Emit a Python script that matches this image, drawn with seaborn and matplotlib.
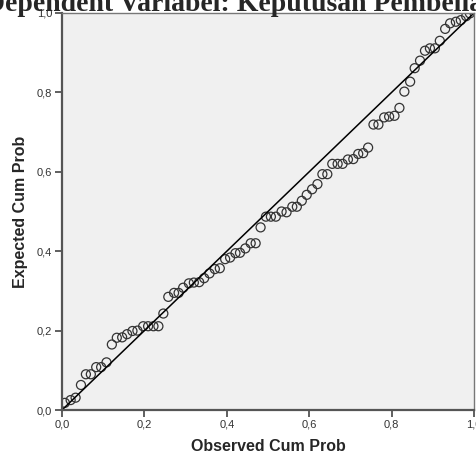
import matplotlib
matplotlib.use("Agg")
import matplotlib.pyplot as plt
import pandas as pd
import seaborn as sns

# P-P plot values
observed = [0.007, 0.021, 0.033, 0.046, 0.058, 0.070, 0.083, 0.095, 0.108, 0.121,
            0.133, 0.146, 0.158, 0.171, 0.183, 0.197, 0.209, 0.222, 0.234, 0.246,
            0.258, 0.272, 0.283, 0.294, 0.308, 0.320, 0.333, 0.345, 0.358, 0.371,
            0.383, 0.396, 0.408, 0.421, 0.432, 0.445, 0.458, 0.470, 0.482, 0.495,
            0.507, 0.519, 0.533, 0.545, 0.559, 0.570, 0.582, 0.594, 0.607, 0.620,
            0.632, 0.644, 0.656, 0.669, 0.681, 0.694, 0.707, 0.719, 0.731, 0.743,
            0.756, 0.768, 0.782, 0.794, 0.807, 0.819, 0.831, 0.845, 0.856, 0.869,
            0.881, 0.893, 0.905, 0.917, 0.930, 0.942, 0.956, 0.968, 0.981, 0.990]
expected = [0.018, 0.025, 0.031, 0.063, 0.090, 0.090, 0.108, 0.108, 0.120, 0.165,
            0.182, 0.183, 0.191, 0.199, 0.200, 0.211, 0.211, 0.211, 0.211, 0.243,
            0.285, 0.295, 0.295, 0.308, 0.319, 0.321, 0.322, 0.332, 0.344, 0.355,
            0.357, 0.380, 0.384, 0.395, 0.396, 0.407, 0.420, 0.420, 0.460, 0.487,
            0.487, 0.487, 0.500, 0.498, 0.512, 0.512, 0.527, 0.542, 0.556, 0.569,
            0.594, 0.594, 0.620, 0.620, 0.620, 0.631, 0.632, 0.645, 0.647, 0.661,
            0.719, 0.719, 0.737, 0.739, 0.741, 0.761, 0.802, 0.827, 0.861, 0.880,
            0.905, 0.911, 0.911, 0.930, 0.960, 0.974, 0.978, 0.982, 0.992, 0.999]
ref_line = [0.0, 1.0]
ticks = [0.0, 0.2, 0.4, 0.6, 0.8, 1.0]
tick_labels = ["0,0", "0,2", "0,4", "0,6", "0,8", "1,0"]
title = "Dependent Variabel: Keputusan Pembelian"

df = pd.DataFrame({"observed": observed, "expected": expected})

sns.set_theme(style="ticks")
plt.rcParams["font.family"] = ["Liberation Sans", "DejaVu Sans"]

fig = plt.figure(figsize=(4.77, 4.57), dpi=100)
ax = fig.add_axes([62 / 477, 47 / 457, 412 / 477, 397 / 457])
ax.set_facecolor("#f0f0f0")

sns.lineplot(x=ref_line, y=ref_line, ax=ax, color="black", linewidth=1.1)
sns.scatterplot(data=df, x="observed", y="expected", ax=ax, s=42,
                facecolor="none", edgecolor="#333333", linewidth=0.9)

ax.set_xlim(0, 1)
ax.set_ylim(0, 1)
ax.set_xticks(ticks)
ax.set_xticklabels(tick_labels)
ax.set_yticks(ticks)
ax.set_yticklabels(tick_labels)
ax.tick_params(direction="out", length=5, width=1.2, color="#444444",
               labelsize=8, labelcolor="#333333", pad=2)

for side in ["left", "bottom"]:
    ax.spines[side].set_color("#555555")
    ax.spines[side].set_linewidth(1.6)
for side in ["top", "right"]:
    ax.spines[side].set_visible(True)
    ax.spines[side].set_color("#777777")
    ax.spines[side].set_linewidth(1.0)

ax.set_xlabel("Observed Cum Prob", fontsize=11.5, fontweight="bold")
ax.set_ylabel("Expected Cum Prob", fontsize=11.5, fontweight="bold")
ax.xaxis.set_label_coords(0.5, -0.074)
ax.yaxis.set_label_coords(-0.083, 0.5)

fig.text(-15 / 477, (457 - 11) / 457, title, family=["Liberation Serif", "DejaVu Serif"],
         fontsize=20, fontweight="bold", ha="left", va="baseline")

fig.savefig("out.png", dpi=100)
